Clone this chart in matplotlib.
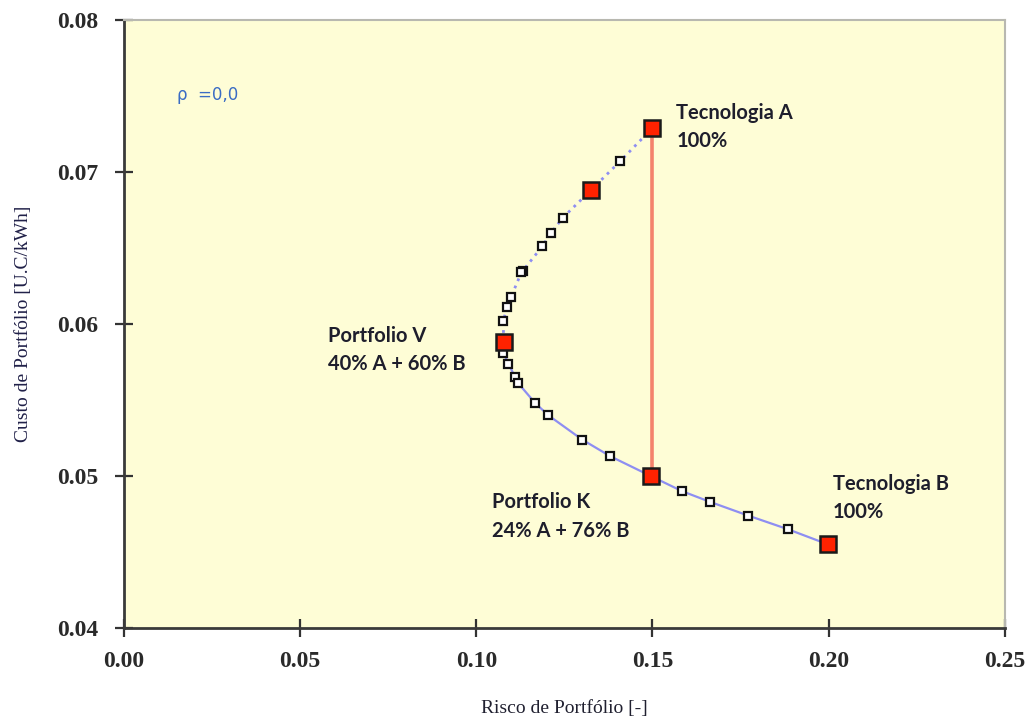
import matplotlib

matplotlib.use("Agg")
import matplotlib.pyplot as plt

# Efficient frontier of a two-technology portfolio, correlation 0.
# Upper branch runs from 100% A down to the minimum-variance portfolio V,
# lower branch from V down to 100% B.
upper_risk = [0.1500, 0.1408, 0.1325, 0.1246, 0.1212, 0.1187, 0.1132, 0.1128,
              0.1099, 0.1088, 0.1076, 0.1078]
upper_cost = [0.0729, 0.0707, 0.0688, 0.0670, 0.0660, 0.0651, 0.0635, 0.0634,
              0.0618, 0.0611, 0.0602, 0.0588]

lower_risk = [0.1078, 0.1077, 0.1091, 0.1110, 0.1119, 0.1167, 0.1204, 0.1300,
              0.1380, 0.1495, 0.1584, 0.1663, 0.1771, 0.1884, 0.1998]
lower_cost = [0.0588, 0.0581, 0.0574, 0.0565, 0.0561, 0.0548, 0.0540, 0.0524,
              0.0513, 0.0500, 0.0490, 0.0483, 0.0474, 0.0465, 0.0455]

# highlighted portfolios: A, intermediate, V, K, B
key_risk = [0.1500, 0.1325, 0.1078, 0.1495, 0.1998]
key_cost = [0.0729, 0.0688, 0.0588, 0.0500, 0.0455]

# same risk, different cost: A vs K
gap_risk = [0.1498, 0.1498]
gap_cost = [0.0722, 0.0504]

labels = [
    ("Tecnologia A", "100%", 0.1568, 0.07349, 0.07164),
    ("Portfolio V", "40% A + 60% B", 0.0580, 0.05882, 0.05697),
    ("Portfolio K", "24% A + 76% B", 0.1045, 0.04789, 0.04599),
    ("Tecnologia B", "100%", 0.2011, 0.04908, 0.04724),
]

xticks = [0.00, 0.05, 0.10, 0.15, 0.20, 0.25]
yticks = [0.04, 0.05, 0.06, 0.07, 0.08]

fig = plt.figure(figsize=(10.29, 7.24), dpi=100)
ax = fig.add_axes([0.1205, 0.1326, 0.856, 0.8398])
ax.set_facecolor("#fefdd6")

line_c = "#8e8ef2"
ax.plot(upper_risk, upper_cost, color=line_c, lw=2, ls=(0, (1, 1.8)), zorder=2)
ax.plot(lower_risk, lower_cost, color=line_c, lw=1.6, zorder=2)
ax.plot(gap_risk, gap_cost, color="#f4826c", lw=2.6, zorder=2)

ax.plot(upper_risk[1:-1], upper_cost[1:-1], ls="none", marker="s", ms=5.5,
        mfc="white", mec="#111111", mew=1.6, zorder=3)
ax.plot(lower_risk[1:-1], lower_cost[1:-1], ls="none", marker="s", ms=5.5,
        mfc="white", mec="#111111", mew=1.6, zorder=3)
ax.plot(key_risk, key_cost, ls="none", marker="s", ms=11, mfc="#ff2200",
        mec="#1a1a1a", mew=1.8, zorder=4)

txt_kw = dict(family="Lato", weight="bold", fontsize=14.5, color="#1e1e2c",
              va="baseline", ha="left")
for head, share, x, y1, y2 in labels:
    ax.text(x, y1, head, **txt_kw)
    ax.text(x, y2, share, **txt_kw)

ax.text(0.0151, 0.07474, "ρ  =0,0", family="DejaVu Sans", fontsize=12,
        color="#3a6cc4", va="baseline", ha="left")

ax.set_xlim(0.0, 0.25)
ax.set_ylim(0.04, 0.08)
ax.set_xticks(xticks)
ax.set_yticks(yticks)
ax.set_xticklabels([f"{v:.2f}" for v in xticks])
ax.set_yticklabels([f"{v:.2f}" for v in yticks])

for lab in ax.get_xticklabels() + ax.get_yticklabels():
    lab.set_family("Liberation Serif")
    lab.set_weight("bold")
    lab.set_fontsize(17)
    lab.set_color("#2a2a2a")

ax.tick_params(axis="both", direction="inout", length=13, width=1.6,
               color="#333333")
ax.tick_params(axis="x", pad=10)
ax.tick_params(axis="y", pad=12)

for side in ("left", "bottom"):
    ax.spines[side].set_color("#3a3a3a")
    ax.spines[side].set_linewidth(2)
for side in ("top", "right"):
    ax.spines[side].set_color("#b8b8b0")
    ax.spines[side].set_linewidth(1.5)

ax.set_xlabel("Risco de Portfólio [-]", family="Liberation Serif",
              fontsize=14, color="#202030", labelpad=20)
ax.set_ylabel("Custo de Portfólio [U.C/kWh]", family="Liberation Serif",
              fontsize=14, color="#202048", labelpad=18)

fig.savefig("out.png", dpi=100)
